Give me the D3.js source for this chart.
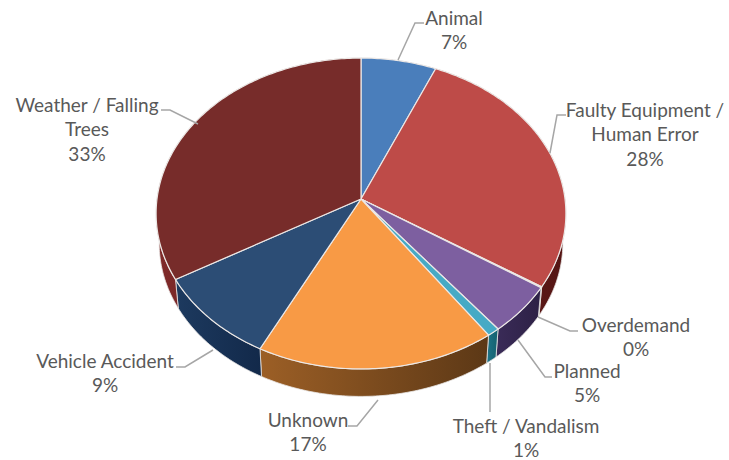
<!DOCTYPE html>
<html>
<head>
<meta charset="utf-8">
<script src="https://cdnjs.cloudflare.com/ajax/libs/d3/7.8.5/d3.min.js"></script>
<style>
  html, body { margin: 0; padding: 0; background: #fff; }
  svg { display: block; }
  text { font-family: Lato, "Open Sans", sans-serif; font-size: 19px; fill: #595959; text-anchor: middle; }
</style>
</head>
<body>
<svg id="chart" width="729" height="460"></svg>
<script>
// Outage causes, share of events (percent)
const causes = ["Animal", "Faulty Equipment / Human Error", "Overdemand", "Planned",
                "Theft / Vandalism", "Unknown", "Vehicle Accident", "Weather / Falling Trees"];
const shares = [6.5, 27.6, 0.1, 5.1, 0.9, 17.3, 9.2, 33.3];

// Face and rim colours per slice
const faceColors = ["#4a7ebb", "#be4b48", "#9bbb59", "#7d5fa0", "#46aac5", "#f89a45", "#2c4d75", "#772c2a"];
const rimLight   = ["#2c4d75", "#6e1f1c", "#5d7030", "#3a2b58", "#1f7488", "#9c5f26", "#1d3a5f", "#7f2a2a"];
const rimDark    = ["#2c4d75", "#541514", "#5d7030", "#2d2145", "#14616f", "#5c3816", "#12294a", "#5f1c1c"];

// Label wrapping and callout placement
const labelLines = [["Animal"], ["Faulty Equipment /", "Human Error"], ["Overdemand"], ["Planned"],
                    ["Theft / Vandalism"], ["Unknown"], ["Vehicle Accident"], ["Weather / Falling", "Trees"]];
const labelAnchors = [[454, 24], [645, 116], [636, 331], [587, 377], [526, 432], [308, 426], [105, 367], [87, 111]];
const leaderPaths = [
  [[398, 60], [415, 23], [424, 23]],
  [[550, 153], [557, 115], [566, 115]],
  [[538, 317], [570, 331], [578, 331]],
  [[518, 340], [545, 377], [552, 377]],
  [[490, 363], [490, 412]],
  [[378, 400], [357, 426], [348, 426]],
  [[213, 350], [185, 367], [176, 367]],
  [[198, 124], [170, 110], [161, 110]]
];

const svg = d3.select("#chart");
const defs = svg.append("defs");

// Tilted disc: a circle seen in perspective, so the near edge reads larger than the far edge
const cx = 361, cy = 199, rx = 204, ry = 154.1, k = 0.0933, depth = 30;
function project(angle, level) {
  const u = Math.sin(angle), v = -Math.cos(angle), s = 1 / (1 - k * v);
  const shrink = level ? 0.985 : 1;
  return [cx + rx * u * s * shrink, cy + ry * v * s * shrink + (level ? depth : 0)];
}
function arcPoints(a0, a1, level) {
  const n = Math.max(2, Math.ceil((a1 - a0) / 0.015));
  return d3.range(n + 1).map(i => project(a0 + (a1 - a0) * i / n, level));
}

const slices = d3.pie().sort(null).value(d => d).startAngle(0).endAngle(2 * Math.PI)(shares);
const line = d3.line();

// Rim first, so the top face covers its hidden back half
const rims = svg.append("g");
slices.forEach((d, i) => {
  const top = arcPoints(d.startAngle, d.endAngle, 0);
  const bottom = arcPoints(d.startAngle, d.endAngle, 1).reverse();
  const xs = top.concat(bottom).map(p => p[0]);
  const grad = defs.append("linearGradient")
    .attr("id", "rim" + i).attr("gradientUnits", "userSpaceOnUse")
    .attr("x1", d3.min(xs)).attr("x2", d3.max(xs)).attr("y1", 0).attr("y2", 0);
  grad.append("stop").attr("offset", 0).attr("stop-color", rimLight[i]);
  grad.append("stop").attr("offset", 1).attr("stop-color", rimDark[i]);
  rims.append("path")
    .attr("d", line(top.concat(bottom)) + "Z")
    .attr("fill", `url(#rim${i})`)
    .attr("stroke", "#e9e6e4").attr("stroke-width", 0.8);
});

// Top faces
const faces = svg.append("g");
slices.forEach((d, i) => {
  const pts = [[cx, cy]].concat(arcPoints(d.startAngle, d.endAngle, 0));
  faces.append("path")
    .attr("d", line(pts) + "Z")
    .attr("fill", faceColors[i])
    .attr("stroke", "#ece8e6").attr("stroke-width", 1.2).attr("stroke-linejoin", "round");
});

// Callout lines
svg.append("g").selectAll("path").data(leaderPaths).join("path")
  .attr("d", d => line(d))
  .attr("fill", "none").attr("stroke", "#a6a6a6").attr("stroke-width", 1.5);

// Labels: name lines followed by the rounded share
const labels = svg.append("g");
causes.forEach((c, i) => {
  const rows = labelLines[i].concat(Math.round(shares[i]) + "%");
  const t = labels.append("text").attr("transform", `translate(${labelAnchors[i]})`);
  t.selectAll("tspan").data(rows).join("tspan")
    .attr("x", 0).attr("y", (d, j) => j * 24.6 + 0.5).text(d => d);
});
</script>
</body>
</html>
